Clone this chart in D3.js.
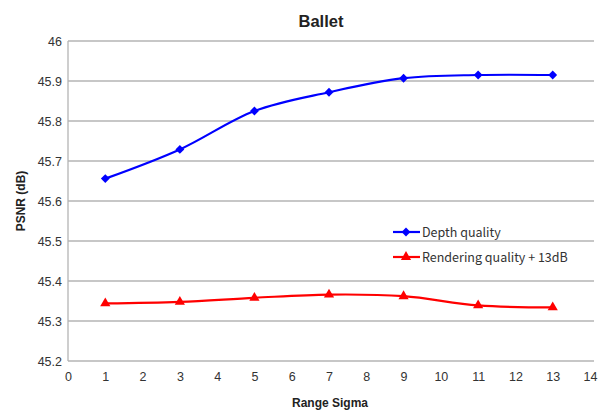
<!DOCTYPE html>
<html>
<head>
<meta charset="utf-8">
<script src="https://cdn.jsdelivr.net/npm/d3@7"></script>
<style>
  html, body { margin: 0; padding: 0; background: #fff; }
  svg { display: block; font-family: "Liberation Sans", Arial, sans-serif; }
</style>
</head>
<body>
<svg id="chart" width="606" height="411"></svg>
<script>
// Range sigma values on the x axis
const sigma = [1, 3, 5, 7, 9, 11, 13];
// PSNR of the depth map (dB)
const depthQuality = [45.656, 45.729, 45.825, 45.872, 45.907, 45.915, 45.915];
// PSNR of the rendered view, shifted up by 13 dB
const renderingQuality = [45.344, 45.348, 45.358, 45.366, 45.362, 45.339, 45.334];
const xTicks = d3.range(0, 15, 1);
const yTicks = [45.2, 45.3, 45.4, 45.5, 45.6, 45.7, 45.8, 45.9, 46];

const svg = d3.select("#chart");
const plotLeft = 68, plotRight = 590, plotTop = 41, plotBottom = 361;

const x = d3.scaleLinear().domain([0, 14]).range([plotLeft, plotRight]);
const y = d3.scaleLinear().domain([45.2, 46]).range([plotBottom, plotTop]);

// horizontal gridlines
svg.append("g")
  .selectAll("line")
  .data(yTicks)
  .join("line")
  .attr("x1", plotLeft).attr("x2", plotRight + 4)
  .attr("y1", d => y(d)).attr("y2", d => y(d))
  .attr("stroke", "#b4b4b4").attr("stroke-width", 1.3);

// y axis line
svg.append("line")
  .attr("x1", plotLeft).attr("x2", plotLeft)
  .attr("y1", plotTop).attr("y2", plotBottom)
  .attr("stroke", "#b4b4b4").attr("stroke-width", 1.3);

// y tick labels
const yAxis = d3.axisLeft(y).tickValues(yTicks).tickSize(0).tickPadding(6)
  .tickFormat(d => d3.format("")(+d.toFixed(1)));
const gy = svg.append("g").attr("transform", `translate(${plotLeft},0)`).call(yAxis);
gy.select(".domain").remove();
gy.selectAll("text").attr("font-size", 12.5).attr("fill", "#333")
  .attr("font-family", "'Liberation Sans Narrow', 'Liberation Sans', Arial, sans-serif");

// x tick labels
const xAxis = d3.axisBottom(x).tickValues(xTicks).tickSize(0).tickPadding(11).tickFormat(d3.format("d"));
const gx = svg.append("g").attr("transform", `translate(0,${plotBottom})`).call(xAxis);
gx.select(".domain").remove();
gx.selectAll("text").attr("font-size", 12.5).attr("fill", "#333");

// titles
svg.append("text").attr("x", 321).attr("y", 27).attr("text-anchor", "middle")
  .attr("font-size", 16.5).attr("font-weight", "bold").attr("fill", "#222").text("Ballet");
svg.append("text").attr("x", 330).attr("y", 407).attr("text-anchor", "middle")
  .attr("font-size", 12).attr("font-weight", "bold").attr("fill", "#222").text("Range Sigma");
svg.append("text")
  .attr("transform", "translate(25,201) rotate(-90)")
  .attr("text-anchor", "middle")
  .attr("font-size", 12).attr("font-weight", "bold").attr("fill", "#222").text("PSNR (dB)");

const line = d3.line().curve(d3.curveCatmullRom.alpha(0.5))
  .x(d => x(d[0])).y(d => y(d[1]));

const series = [
  { name: "Depth quality", values: depthQuality, color: "#0000ff", marker: d3.symbolDiamond2, size: 50 },
  { name: "Rendering quality + 13dB", values: renderingQuality, color: "#ff0000", marker: d3.symbolTriangle, size: 45 }
];

series.forEach(s => {
  const pts = sigma.map((v, i) => [v, s.values[i]]);
  svg.append("path").datum(pts)
    .attr("d", line).attr("fill", "none")
    .attr("stroke", s.color).attr("stroke-width", 2.2);
  svg.append("g").selectAll("path")
    .data(pts).join("path")
    .attr("transform", d => `translate(${x(d[0])},${y(d[1])})`)
    .attr("d", d3.symbol().type(s.marker).size(s.size))
    .attr("fill", s.color);
});

// legend
const legend = svg.append("g");
series.forEach((s, i) => {
  const ly = 232 + i * 25;
  legend.append("line").attr("x1", 393).attr("x2", 420).attr("y1", ly).attr("y2", ly)
    .attr("stroke", s.color).attr("stroke-width", 2.2);
  legend.append("path").attr("transform", `translate(406,${ly})`)
    .attr("d", d3.symbol().type(s.marker).size(s.size)).attr("fill", s.color);
  legend.append("text").attr("x", 422).attr("y", ly + 4.5)
    .attr("font-size", 12.5).attr("fill", "#333")
    .attr("font-family", "'Noto Sans CJK KR', 'Noto Sans', sans-serif")
    .text(s.name);
});
</script>
</body>
</html>
